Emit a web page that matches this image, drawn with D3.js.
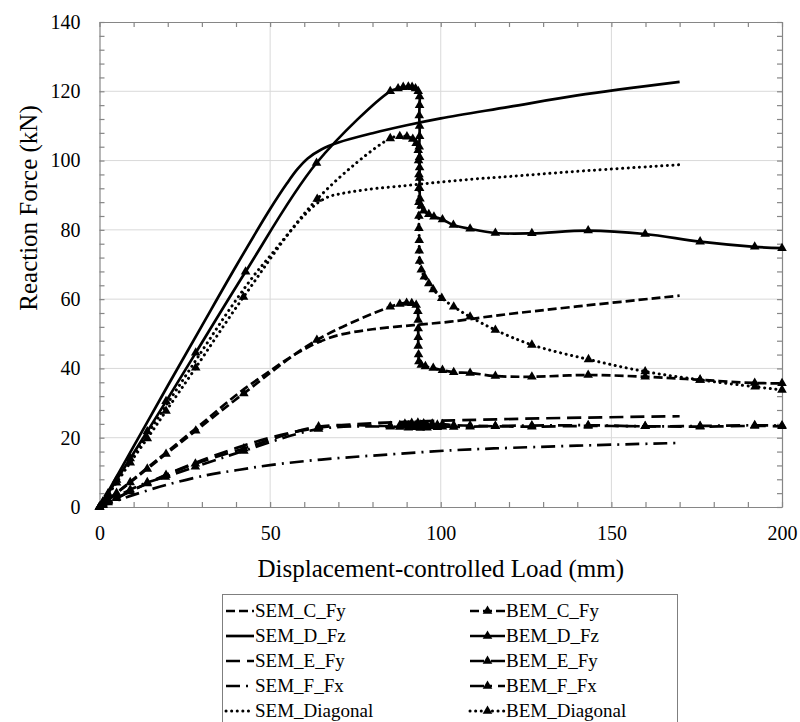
<!DOCTYPE html>
<html><head><meta charset="utf-8">
<script src="https://cdn.jsdelivr.net/npm/d3@7"></script>
<style>
body{margin:0;background:#fff}
svg{display:block}
text{font-family:"Liberation Serif",Tinos,"Times New Roman",Times,"DejaVu Serif",serif;fill:#000}
</style>
</head><body>
<svg id="c" width="800" height="722"></svg>
<script>
// ---------- data ----------
const xTickLabels = [0, 50, 100, 150, 200];
const yTickLabels = [0, 20, 40, 60, 80, 100, 120, 140];
const xMinorTicks = d3.range(0, 201, 10);
const yMinorTicks = d3.range(0, 141, 4);

const semCFy = [[0,0],[10,8.1],[20,16.1],[30,24.1],[40.7,32.8],[50,39.3],[56,43.3],[60,45.5],[64,47.5],[70,49.6],[80,51.3],[92,52.5],[102.8,53.5],[117.4,55.4],[140,57.9],[170,61]];
const semDFz = [[0,0],[10,17.5],[20,35],[30,52.3],[40,69.5],[50,86],[55,93.5],[58,97.5],[61,100.6],[65,103.2],[70,105.2],[80,107.9],[90,110.2],[100,112.2],[120,115.5],[140,118.8],[170,122.7]];
const semEFy = [[0,0],[10,5],[20,9.5],[30,13.5],[40,17],[50,20],[60,22.2],[70,23.5],[80,24.2],[100,24.9],[130,25.6],[170,26.2]];
const semFFx = [[0,0],[5,1.8],[10,3.5],[20,6.5],[31.5,9.2],[40,10.6],[50,12.1],[65,13.7],[82.3,15],[103.8,16.4],[115.5,16.9],[140,17.7],[170,18.5]];
const semDiag = [[0,0],[10,15],[20,30],[30,45],[37.8,56.6],[45,66.5],[50,72.5],[55,78.5],[60,84.2],[63.7,87.6],[67,89.5],[70,90.3],[78,91.6],[90,92.8],[100,93.8],[110,94.7],[120,95.4],[140,96.9],[170,98.8]];

const bemCFy = [[0,0],[1,0.8],[2.5,2],[5,4],[9,7.1],[14,11],[19.5,15.3],[28.2,22],[42.3,32.8],[63.7,48.2],[85.2,57.8],[88,58.6],[90,58.9],[91.5,58.8],[92.8,58.3],[93.3,56.5],[93.4,54],[93.4,51.5],[93.4,49],[93.4,46.5],[93.5,44],[93.6,42],[94.3,41],[95.5,40.6],[97.8,40.1],[100.5,39.5],[103.8,38.9],[108.6,38.7],[116,37.8],[126.7,37.6],[143.2,38.1],[159.9,37.6],[176,36.7],[192,35.8],[200,35.7]];
const bemDFz = [[0,0],[1,1.5],[2.5,3.9],[5,7.8],[9,14],[14,21.8],[19.5,30.5],[28.2,44.5],[42.8,67.9],[63.6,99.3],[85.2,120],[87.5,120.8],[89,121.2],[90.5,121.3],[91.6,121.2],[92.6,120.8],[93.4,120],[93.8,118.5],[93.8,116],[93.7,113],[93.8,110],[93.8,107],[93.7,104],[93.8,101],[93.8,98],[93.8,95],[93.8,92],[93.9,89],[94.2,87],[95,85.5],[96.5,84.5],[98,83.8],[100.5,83],[103.7,81.4],[108.6,80.3],[116,79.1],[126.7,79],[143.2,79.8],[159.9,78.8],[176,76.6],[192,75.1],[200,74.7]];
const bemEFy = [[0,0],[1,0.5],[2.5,1.3],[5,2.5],[9,4.5],[14,6.8],[19.5,9.2],[28.1,12.5],[42.3,16.9],[64.2,23.2],[85.2,23.4],[88,23.6],[89.5,24],[90.5,23.5],[91.5,24.2],[92.5,23.6],[93.3,24.3],[94,23.7],[95,24.1],[96,23.6],[97.5,24],[99,23.7],[100.5,23.9],[103.8,23.6],[108.6,23.5],[116,23.3],[126.7,23.2],[143.2,23.4],[159.9,23.3],[176,23.2],[192,23.4],[200,23.3]];
const bemFFx = [[0,0],[1,0.6],[2.5,1.5],[5,2.9],[9,5],[14,7.1],[19.3,8.7],[28.1,11.6],[42.3,16.2],[64.2,22.5],[85.2,23.2],[88,23.1],[89.5,23.4],[90.5,22.9],[91.5,23.5],[92.5,23],[93.3,23.3],[94,22.8],[95,23.2],[96,22.9],[97.5,23.3],[99,23],[100.5,23.2],[103.8,23.1],[108.6,23.2],[116,23.4],[126.7,23.5],[143.2,23.6],[159.9,23.3],[176,23.4],[192,23.6],[200,23.5]];
const bemDiag = [[0,0],[1,1.4],[2.5,3.5],[5,7],[9,12.8],[14,19.8],[19.5,27.7],[28.2,40.2],[42.2,60.6],[63.8,88.9],[85.2,106.4],[88,107],[90.1,106.9],[91.8,106.2],[92.8,105],[93.4,103],[93.5,100],[93.6,96],[93.6,92],[93.6,88],[93.6,84],[93.6,80.5],[93.7,77],[93.7,74],[93.8,71],[94.3,68.5],[95.2,66.5],[96.5,64.5],[97.8,62.8],[100.3,60.3],[103.8,57.8],[108.6,54.9],[116,51.1],[126.7,46.8],[143.3,42.6],[159.9,39.1],[176,36.7],[192.1,34.7],[200,33.8]];

const seriesNames = ["SEM_C_Fy","SEM_D_Fz","SEM_E_Fy","SEM_F_Fx","SEM_Diagonal","BEM_C_Fy","BEM_D_Fz","BEM_E_Fy","BEM_F_Fx","BEM_Diagonal"];
const seriesData = [semCFy, semDFz, semEFy, semFFx, semDiag, bemCFy, bemDFz, bemEFy, bemFFx, bemDiag];

// ---------- styles ----------
const FONT = '"Liberation Serif",Tinos,"Times New Roman",Times,"DejaVu Serif",serif';
const dashFor = {C:"9,4", D:null, E:"14,7", F:"14,6,2,6", Diagonal:"0.1,5.5"};
function styleKey(name){ return name.split("_")[1]; }

// ---------- layout ----------
const svg = d3.select("#c");
const W = 800, H = 722;
const m = {left:99.5, right:W-782, top:22, bottom:H-507};
const x = d3.scaleLinear().domain([0,200]).range([m.left, W-m.right]);
const y = d3.scaleLinear().domain([0,140]).range([H-m.bottom, m.top]);
const axisColor = "#868686";

// grid
const g = svg.append("g");
g.selectAll("line.gy").data(yTickLabels.slice(1,-1)).join("line")
  .attr("x1", x(0)).attr("x2", x(200)).attr("y1", d=>y(d)).attr("y2", d=>y(d))
  .attr("stroke", "#d9d9d9").attr("stroke-width", 1);
g.selectAll("line.gx").data(xTickLabels.slice(1,-1)).join("line")
  .attr("y1", y(0)).attr("y2", y(140)).attr("x1", d=>x(d)).attr("x2", d=>x(d))
  .attr("stroke", "#d9d9d9").attr("stroke-width", 1);

function styleAxis(sel){
  sel.attr("font-family", FONT).attr("font-size", 20);
  sel.selectAll("path.domain").attr("stroke", axisColor).attr("stroke-width", 1.2);
  sel.selectAll(".tick line").attr("stroke", axisColor).attr("stroke-width", 1.2);
  sel.selectAll("text").style("font-size","20px").style("font-family", FONT).attr("fill","#000");
}
const fmtX = d => xTickLabels.includes(d) ? d : "";
const fmtY = d => yTickLabels.includes(d) ? d : "";

const axB = svg.append("g").attr("transform", `translate(0,${y(0)})`)
  .call(d3.axisBottom(x).tickValues(xMinorTicks).tickSizeInner(-5).tickSizeOuter(0).tickPadding(19).tickFormat(fmtX));
styleAxis(axB);
const axT = svg.append("g").attr("transform", `translate(0,${y(140)})`)
  .call(d3.axisTop(x).tickValues(xMinorTicks).tickSizeInner(-5).tickSizeOuter(0).tickFormat(""));
styleAxis(axT);
const axL = svg.append("g").attr("transform", `translate(${x(0)},0)`)
  .call(d3.axisLeft(y).tickValues(yMinorTicks).tickSizeInner(-5).tickSizeOuter(0).tickPadding(19).tickFormat(fmtY));
styleAxis(axL);
const axR = svg.append("g").attr("transform", `translate(${x(200)},0)`)
  .call(d3.axisRight(y).tickValues(yMinorTicks).tickSizeInner(-5).tickSizeOuter(0).tickFormat(""));
styleAxis(axR);

// axis titles
svg.append("text").attr("x", (x(0)+x(200))/2).attr("y", 577).attr("text-anchor","middle")
  .style("font-family", FONT).style("font-size","25px").text("Displacement-controlled Load (mm)");
svg.append("text").attr("transform", `translate(37,208) rotate(-90)`).attr("text-anchor","middle")
  .style("font-family", FONT).style("font-size","25px").text("Reaction Force (kN)");

// ---------- series ----------
const line = d3.line().x(d=>x(d[0])).y(d=>y(d[1])).curve(d3.curveCatmullRom.alpha(0.5));
const tri = d3.symbol().type(d3.symbolTriangle).size(40);
const plot = svg.append("g");
seriesNames.forEach((name,i)=>{
  const k = styleKey(name);
  const p = plot.append("path").attr("d", line(seriesData[i])).attr("fill","none")
    .attr("stroke","#000").attr("stroke-width", 2.7);
  if (dashFor[k]) p.attr("stroke-dasharray", dashFor[k]);
  if (k==="Diagonal") p.attr("stroke-linecap","round").attr("stroke-width",3);
});
seriesNames.forEach((name,i)=>{
  if (!name.startsWith("BEM")) return;
  plot.selectAll(null).data(seriesData[i]).join("path")
    .attr("d", tri).attr("transform", d=>`translate(${x(d[0])},${y(d[1])})`)
    .attr("fill","#000");
});

// ---------- legend ----------
const leg = svg.append("g");
leg.append("rect").attr("x",222.5).attr("y",594.5).attr("width",455).attr("height",160)
  .attr("fill","#fff").attr("stroke","#7f7f7f").attr("stroke-width",1);
const rowBase = [617, 642, 667, 692, 717];
seriesNames.forEach((name,i)=>{
  const col = i<5 ? 0 : 1, r = i%5;
  const k = styleKey(name);
  const yb = rowBase[r], ym = yb-6;
  const x1 = col===0 ? 226 : 470, x2 = col===0 ? 254 : 505, tx = col===0 ? 255 : 506;
  const l = leg.append("line").attr("x1",x1).attr("x2",x2).attr("y1",ym).attr("y2",ym)
    .attr("stroke","#000").attr("stroke-width",2.7);
  if (dashFor[k]) l.attr("stroke-dasharray", dashFor[k]);
  if (k==="Diagonal") l.attr("stroke-linecap","round").attr("stroke-width",3);
  if (col===1) leg.append("path").attr("d", tri).attr("transform",`translate(${(x1+x2)/2},${ym})`).attr("fill","#000");
  leg.append("text").attr("x",tx).attr("y",yb).style("font-family", FONT).style("font-size","19px").text(name);
});
</script>
</body></html>
